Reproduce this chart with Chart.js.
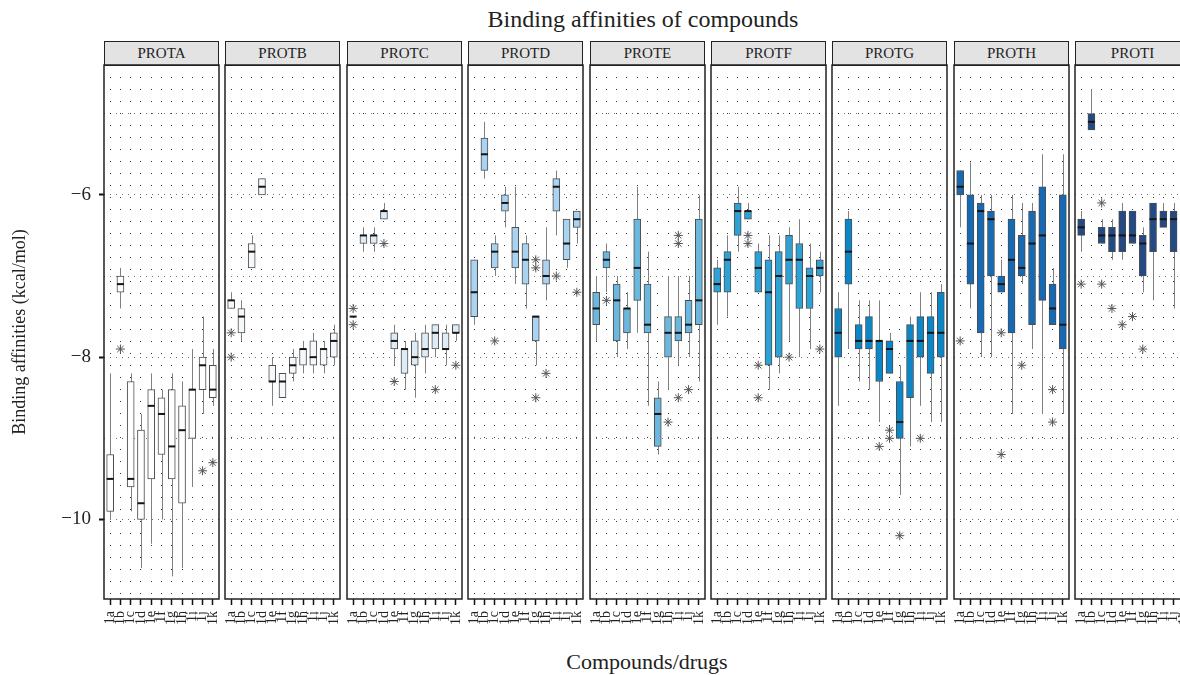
<!DOCTYPE html>
<html>
<head>
<meta charset="utf-8">
<title>Binding affinities of compounds</title>
<script src="https://cdn.jsdelivr.net/npm/chart.js@4.4.1/dist/chart.umd.min.js"></script>
<style>
    html, body { margin: 0; padding: 0; background: #fff; overflow: hidden; }
    #figure {
        position: relative;
        width: 1180px;
        height: 675px;
        overflow: hidden;
        font-family: 'Liberation Serif', 'DejaVu Serif', serif;
        color: #222;
    }
    .panel { position: absolute; top: 43px; }
    .strip {
        position: absolute;
        top: 41px;
        width: 115px;
        height: 25px;
        box-sizing: border-box;
        border: 1.5px solid #222;
        background: #e4e3e4;
        text-align: center;
        font-size: 15px;
        line-height: 22px;
    }
    #title { position: absolute; left: 443px; width: 400px; top: 6px; text-align: center; font-size: 24px; }
    #xtitle { position: absolute; left: 447px; width: 400px; top: 649px; text-align: center; font-size: 22px; }
</style>
</head>
<body>
<div id="figure">
    <div id="title">Binding affinities of compounds</div>
    <div id="xtitle">Compounds/drugs</div>
</div>
<script>
// Facets and compounds
const proteins = ['PROTA', 'PROTB', 'PROTC', 'PROTD', 'PROTE', 'PROTF', 'PROTG', 'PROTH', 'PROTI'];
const compounds = ['1a', '1b', '1c', '1d', '1e', '1f', '1g', '1h', '1i', '1j', '1k'];
const yTickLabels = [-6, -8, -10];

// Box statistics, one row per protein, one value per compound (kcal/mol)
const whiskerLow = [
    [-10.0, -7.4, -9.9, -10.6, -10.3, -10.0, -10.7, -10.6, -9.6, -8.7, -8.6],
    [-7.4, -7.8, -6.9, -6.0, -8.6, -8.5, -8.3, -8.2, -8.2, -8.2, -8.1],
    [-7.5, -6.7, -6.7, -6.3, -8.1, -8.4, -8.5, -8.2, -8.0, -8.1, -7.8],
    [-7.6, -5.8, -7.0, -6.4, -7.1, -7.4, -8.1, -7.3, -6.5, -6.9, -6.6],
    [-7.8, -7.2, -8.0, -7.9, -7.7, -8.6, -9.2, -8.4, -8.1, -8.0, -8.3],
    [-7.6, -7.5, -6.7, -6.3, -7.2, -8.4, -8.2, -7.8, -8.0, -7.9, -7.2],
    [-8.6, -7.9, -8.3, -8.4, -8.8, -8.2, -9.7, -9.1, -8.6, -8.8, -8.8],
    [-6.4, -7.4, -8.0, -8.0, -7.2, -8.7, -7.1, -7.9, -8.7, -7.6, -8.7],
    [-6.7, -5.2, -6.6, -6.8, -6.8, -6.6, -7.2, -7.3, -6.4, -7.4, -7.4]
];
const boxLow = [
    [-9.9, -7.2, -9.6, -10.0, -9.5, -9.2, -9.5, -9.8, -9.0, -8.4, -8.5],
    [-7.4, -7.7, -6.9, -6.0, -8.3, -8.5, -8.2, -8.1, -8.1, -8.1, -8.0],
    [-7.5, -6.6, -6.6, -6.3, -7.9, -8.2, -8.1, -8.0, -7.9, -7.9, -7.7],
    [-7.5, -5.7, -6.9, -6.2, -6.9, -7.1, -7.8, -7.1, -6.2, -6.8, -6.4],
    [-7.6, -6.9, -7.8, -7.7, -7.3, -7.7, -9.1, -8.0, -7.8, -7.7, -7.6],
    [-7.2, -7.2, -6.5, -6.3, -7.2, -8.1, -8.0, -7.1, -7.4, -7.4, -7.0],
    [-8.0, -7.1, -7.9, -7.9, -8.3, -8.2, -9.0, -8.5, -8.0, -8.2, -8.0],
    [-6.0, -7.1, -7.7, -7.0, -7.2, -7.7, -7.0, -7.6, -7.3, -7.6, -7.9],
    [-6.5, -5.2, -6.6, -6.7, -6.7, -6.6, -7.0, -6.7, -6.4, -6.7, -6.6]
];
const medians = [
    [-9.5, -7.1, -9.5, -9.8, -8.6, -8.7, -9.1, -8.9, -8.4, -8.1, -8.4],
    [-7.3, -7.5, -6.7, -5.9, -8.3, -8.3, -8.1, -7.9, -8.0, -7.9, -7.8],
    [-7.5, -6.5, -6.5, -6.2, -7.8, -7.9, -8.0, -7.9, -7.7, -7.9, -7.7],
    [-7.2, -5.5, -6.7, -6.1, -6.7, -6.8, -7.5, -7.0, -5.9, -6.6, -6.3],
    [-7.4, -6.8, -7.3, -7.4, -6.9, -7.6, -8.7, -7.7, -7.7, -7.6, -7.3],
    [-7.1, -6.8, -6.2, -6.2, -6.9, -7.2, -7.0, -6.8, -6.8, -7.0, -6.9],
    [-7.7, -6.7, -7.8, -7.8, -7.8, -7.9, -8.8, -7.8, -7.8, -7.7, -7.7],
    [-5.9, -6.6, -6.2, -6.3, -7.1, -6.8, -6.9, -6.6, -6.5, -7.4, -7.6],
    [-6.4, -5.1, -6.5, -6.5, -6.5, -6.5, -6.6, -6.3, -6.3, -6.3, -6.3]
];
const boxHigh = [
    [-9.2, -7.0, -8.3, -8.9, -8.4, -8.5, -8.4, -8.6, -8.4, -8.0, -8.1],
    [-7.3, -7.4, -6.6, -5.8, -8.1, -8.2, -8.0, -7.9, -7.8, -7.9, -7.7],
    [-7.5, -6.5, -6.5, -6.2, -7.7, -7.9, -7.8, -7.7, -7.6, -7.7, -7.6],
    [-6.8, -5.3, -6.6, -6.0, -6.4, -6.6, -7.5, -6.8, -5.8, -6.3, -6.2],
    [-7.2, -6.7, -7.1, -7.4, -6.3, -7.1, -8.5, -7.5, -7.5, -7.3, -6.3],
    [-6.9, -6.7, -6.1, -6.2, -6.7, -6.8, -6.7, -6.5, -6.6, -6.9, -6.8],
    [-7.4, -6.3, -7.6, -7.5, -7.8, -7.8, -8.3, -7.6, -7.5, -7.5, -7.2],
    [-5.7, -6.0, -6.1, -6.2, -7.0, -6.3, -6.5, -6.2, -5.9, -7.1, -6.0],
    [-6.3, -5.0, -6.4, -6.4, -6.2, -6.2, -6.5, -6.1, -6.2, -6.2, -6.2]
];
const whiskerHigh = [
    [-8.2, -6.9, -8.2, -8.7, -8.2, -8.4, -8.2, -8.3, -7.9, -7.5, -7.9],
    [-7.2, -7.3, -6.5, -5.8, -8.0, -8.2, -7.9, -7.8, -7.7, -7.8, -7.6],
    [-7.5, -6.4, -6.4, -6.1, -7.6, -7.8, -7.7, -7.6, -7.6, -7.6, -7.6],
    [-6.8, -5.1, -6.5, -5.9, -5.9, -6.5, -7.5, -6.4, -5.7, -6.3, -6.2],
    [-7.0, -6.6, -7.0, -7.2, -5.9, -6.7, -8.3, -7.0, -7.0, -7.0, -6.0],
    [-6.8, -6.5, -5.9, -6.1, -6.6, -6.5, -6.5, -6.4, -6.3, -6.6, -6.7],
    [-7.2, -6.2, -7.3, -7.3, -7.3, -7.7, -8.1, -7.5, -7.2, -7.2, -7.1],
    [-5.7, -5.6, -6.0, -6.0, -6.8, -6.0, -6.1, -6.1, -5.5, -6.9, -5.5],
    [-6.2, -4.7, -6.3, -6.3, -6.1, -6.2, -6.4, -6.1, -6.1, -6.1, -6.1]
];
// Outliers per protein: [compound, value]
const outliers = [
    [['1b', -7.9], ['1j', -9.4], ['1k', -9.3]],
    [['1a', -7.7], ['1a', -8.0]],
    [['1a', -7.4], ['1a', -7.6], ['1d', -6.6], ['1e', -8.3], ['1i', -8.4], ['1k', -8.1]],
    [['1c', -7.8], ['1g', -6.8], ['1g', -6.9], ['1g', -8.5], ['1h', -8.2], ['1i', -7.0], ['1k', -7.2]],
    [['1b', -7.3], ['1h', -8.8], ['1i', -6.5], ['1i', -6.6], ['1i', -8.5], ['1j', -8.4]],
    [['1d', -6.5], ['1d', -6.6], ['1e', -8.1], ['1e', -8.5], ['1h', -8.0], ['1k', -7.9]],
    [['1e', -9.1], ['1f', -8.9], ['1f', -9.0], ['1g', -10.2], ['1i', -9.0]],
    [['1a', -7.8], ['1e', -7.7], ['1e', -9.2], ['1g', -8.1], ['1j', -8.4], ['1j', -8.8]],
    [['1a', -7.1], ['1c', -6.1], ['1c', -7.1], ['1d', -7.4], ['1e', -7.6], ['1f', -7.5], ['1g', -7.9]]
];

const panelColors = ['#ffffff', '#f5f9fc', '#deecf8', '#a9d3f0', '#6bb7de', '#2fa2d5', '#0b87c8', '#1669b3', '#244a86'];

// Layout of the facets (pixels)
const PANEL_LEFT = 104;
const PANEL_STEP = 121.4;
const PANEL_WIDTH = 115;
const PAD_LEFT = 8;
const PAD_RIGHT = 18;   // room Chart.js wants for the last rotated tick label
const PAD_TOP = 22;     // room Chart.js wants for the top y tick
const PLOT_HEIGHT = 534;
const X_AXIS_HEIGHT = 44;
const CANVAS_HEIGHT = PAD_TOP + PLOT_HEIGHT + X_AXIS_HEIGHT;
const BOX_WIDTH = 7;

/**
 * Whiskers under the boxes, medians on top of them, frame around the panel
 */
const boxExtras = {
    id: 'boxExtras',
    beforeDatasetsDraw(chart, args, opts) {
        const {ctx, scales: {x, y}} = chart;
        const p = opts.panel;
        ctx.save();
        ctx.strokeStyle = '#808080';
        ctx.lineWidth = 1;
        compounds.forEach((c, i) => {
            const px = Math.round(x.getPixelForValue(i + 1)) + 0.5;
            ctx.beginPath();
            ctx.moveTo(px, y.getPixelForValue(whiskerHigh[p][i]));
            ctx.lineTo(px, y.getPixelForValue(whiskerLow[p][i]));
            ctx.stroke();
        });
        ctx.restore();
    },
    afterDatasetsDraw(chart, args, opts) {
        const {ctx, scales: {x, y}} = chart;
        const p = opts.panel;
        ctx.save();
        ctx.strokeStyle = '#151515';
        ctx.lineWidth = 2;
        compounds.forEach((c, i) => {
            const px = x.getPixelForValue(i + 1);
            const py = y.getPixelForValue(medians[p][i]);
            ctx.beginPath();
            ctx.moveTo(px - BOX_WIDTH / 2, py);
            ctx.lineTo(px + BOX_WIDTH / 2, py);
            ctx.stroke();
        });
        ctx.restore();
    },
    afterDraw(chart) {
        const {ctx, chartArea: a} = chart;
        ctx.save();
        ctx.strokeStyle = '#222';
        ctx.lineWidth = 1.5;
        ctx.strokeRect(a.left, a.top, a.right - a.left, a.bottom - a.top);
        ctx.restore();
    }
};

const figure = document.getElementById('figure');

proteins.forEach((name, p) => {
    const left = Math.round(PANEL_LEFT + p * PANEL_STEP);
    const first = p === 0;

    const strip = document.createElement('div');
    strip.className = 'strip';
    strip.style.left = left + 'px';
    strip.textContent = name;
    figure.appendChild(strip);

    const canvasLeft = first ? 0 : left - PAD_LEFT;
    const canvasWidth = first ? left + PANEL_WIDTH + PAD_RIGHT : PAD_LEFT + PANEL_WIDTH + PAD_RIGHT;
    const wrap = document.createElement('div');
    wrap.className = 'panel';
    wrap.style.left = canvasLeft + 'px';
    const canvas = document.createElement('canvas');
    canvas.width = canvasWidth;
    canvas.height = CANVAS_HEIGHT;
    wrap.appendChild(canvas);
    figure.appendChild(wrap);

    const boxData = compounds.map((c, i) => ({x: i + 1, y: [boxLow[p][i], boxHigh[p][i]]}));
    const outlierData = outliers[p].map(([c, v]) => ({x: compounds.indexOf(c) + 1, y: v}));

    new Chart(canvas, {
        type: 'bar',
        data: {
            datasets: [
                {
                    type: 'bar',
                    data: boxData,
                    backgroundColor: panelColors[p],
                    borderColor: '#4d4d4d',
                    borderWidth: 1,
                    borderSkipped: false,
                    barThickness: BOX_WIDTH,
                    grouped: false,
                    order: 2
                },
                {
                    type: 'scatter',
                    data: outlierData,
                    pointStyle: 'star',
                    radius: 4.5,
                    borderColor: '#555',
                    borderWidth: 1,
                    order: 1
                }
            ]
        },
        options: {
            responsive: false,
            animation: false,
            events: [],
            layout: {
                padding: {top: PAD_TOP, left: first ? 0 : PAD_LEFT, right: PAD_RIGHT, bottom: 0}
            },
            plugins: {
                legend: {display: false},
                tooltip: {enabled: false},
                boxExtras: {panel: p}
            },
            scales: {
                x: {
                    type: 'linear',
                    min: 0.4,
                    max: 11.6,
                    offset: false,
                    afterBuildTicks: function(scale) {
                        scale.ticks = compounds.map((c, i) => ({value: i + 1}));
                    },
                    afterFit: function(scale) {
                        scale.height = X_AXIS_HEIGHT;
                    },
                    grid: {
                        offset: false,
                        color: 'rgba(0, 0, 0, 0.8)',
                        lineWidth: 1,
                        drawTicks: true,
                        tickLength: 6,
                        tickWidth: 1.5,
                        tickColor: '#111'
                    },
                    border: {display: false, dash: [1, 11]},
                    ticks: {
                        autoSkip: false,
                        minRotation: 90,
                        maxRotation: 90,
                        padding: 6,
                        color: '#222',
                        font: {family: 'Liberation Serif', size: 14},
                        callback: function(value) {
                            return compounds[value - 1];
                        }
                    }
                },
                y: {
                    type: 'linear',
                    min: -10.98,
                    max: -4.4,
                    beginAtZero: false,
                    afterBuildTicks: function(scale) {
                        scale.ticks = [-10, -9, -8, -7, -6, -5].map(v => ({value: v}));
                    },
                    afterFit: function(scale) {
                        scale.width = first ? PANEL_LEFT : 0;
                    },
                    grid: {
                        color: 'rgba(0, 0, 0, 0.55)',
                        lineWidth: 1,
                        drawTicks: first,
                        tickLength: 5,
                        tickWidth: 2,
                        tickColor: function(ctx) {
                            return ctx.tick && yTickLabels.includes(ctx.tick.value) ? '#111' : 'rgba(0, 0, 0, 0)';
                        }
                    },
                    border: {display: false, dash: [1, 5]},
                    title: {
                        display: first,
                        text: 'Binding affinities (kcal/mol)',
                        color: '#222',
                        font: {family: 'Liberation Serif', size: 18},
                        padding: {top: 9, bottom: 0}
                    },
                    ticks: {
                        display: first,
                        padding: 8,
                        color: '#222',
                        font: {family: 'Liberation Serif', size: 19},
                        callback: function(value) {
                            return yTickLabels.includes(value) ? '\u2212' + Math.abs(value) : '';
                        }
                    }
                }
            }
        },
        plugins: [boxExtras]
    });
});
</script>
</body>
</html>
